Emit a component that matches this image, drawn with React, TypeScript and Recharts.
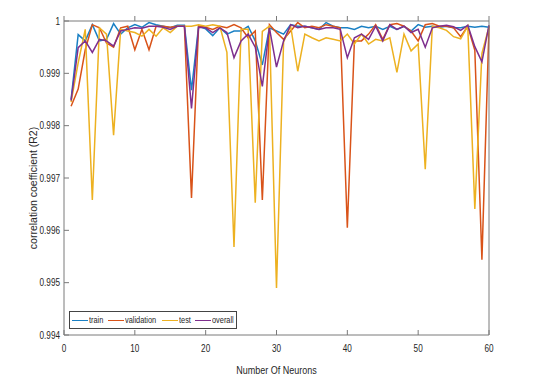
import React from "react";
import {
  LineChart,
  Line,
  XAxis,
  YAxis,
  Legend,
} from "recharts";

const NEURONS = Array.from({ length: 60 }, (_, i) => i + 1);

const TRAIN = [
  0.9985, 0.99974, 0.99962, 0.99993, 0.99962, 0.99965, 0.99995, 0.99975, 0.99987, 0.99993,
  0.99988, 0.99997, 0.99993, 0.9999, 0.99987, 0.99992, 0.99992, 0.99868, 0.9999, 0.99985,
  0.99972, 0.99987, 0.99975, 0.99981, 0.99981, 0.9999, 0.99962, 0.99916, 0.99987, 0.99981,
  0.99975, 0.99993, 0.9999, 0.9999, 0.99987, 0.99984, 0.99997, 0.9999, 0.99987, 0.99987,
  0.99984, 0.9999, 0.99987, 0.9999, 0.99984, 0.9999, 0.99984, 0.9999, 0.99981, 0.99993,
  0.99988, 0.9999, 0.99988, 0.9999, 0.99987, 0.99987, 0.9999, 0.99988, 0.9999, 0.99988,
];

const VALIDATION = [
  0.99837, 0.9987, 0.99945, 0.99993, 0.99987, 0.99958, 0.9995, 0.99987, 0.9999, 0.99945,
  0.99984, 0.99945, 0.9999, 0.9999, 0.99988, 0.9999, 0.9999, 0.99662, 0.9999, 0.99988,
  0.99984, 0.9999, 0.99987, 0.99993, 0.99987, 0.99968, 0.99981, 0.99658, 0.99993, 0.99978,
  0.99965, 0.99981, 0.99997, 0.99987, 0.9999, 0.99987, 0.99993, 0.9999, 0.99987, 0.99605,
  0.99962, 0.99962, 0.99975, 0.99993, 0.99965, 0.99993, 0.99995, 0.9999, 0.99981, 0.99962,
  0.99993, 0.99995, 0.9999, 0.9999, 0.99987, 0.9997, 0.9999, 0.99944, 0.99544, 0.9999,
];

const TEST = [
  0.99845, 0.9992, 0.99984, 0.99658, 0.99987, 0.99975, 0.99782, 0.99984, 0.99981, 0.99978,
  0.99971, 0.99984, 0.99971, 0.99987, 0.99978, 0.9999, 0.9999, 0.9999, 0.99993, 0.9999,
  0.99993, 0.9999, 0.9994, 0.99568, 0.99984, 0.99984, 0.99653, 0.9998, 0.9999, 0.9949,
  0.9996, 0.9999, 0.99904, 0.99975, 0.99968, 0.99962, 0.99968, 0.99965, 0.99962, 0.99975,
  0.99956, 0.99975, 0.99956, 0.99965, 0.99962, 0.99968, 0.99902, 0.99975, 0.99943, 0.99956,
  0.99717, 0.9999, 0.99987, 0.99982, 0.9997, 0.99966, 0.9999, 0.99641, 0.99938, 0.99989,
];

const OVERALL = [
  0.99848, 0.99949, 0.99962, 0.9994, 0.99965, 0.99962, 0.99952, 0.99981, 0.99984, 0.99987,
  0.99986, 0.9999, 0.9999, 0.99988, 0.99984, 0.9999, 0.9999, 0.99833, 0.99988, 0.99987,
  0.99978, 0.99987, 0.99978, 0.9993, 0.99962, 0.99975, 0.9995, 0.99875, 0.99987, 0.99912,
  0.99962, 0.99993, 0.99987, 0.9999, 0.99987, 0.99984, 0.99987, 0.99987, 0.99984, 0.9993,
  0.99968, 0.99975, 0.99965, 0.9999, 0.99962, 0.99993, 0.99984, 0.9999, 0.99978, 0.99984,
  0.9995, 0.99987, 0.9999, 0.99992, 0.99989, 0.99982, 0.99992, 0.99951, 0.99922, 0.99992,
];

const SERIES = ["train", "validation", "test", "overall"];
const X_TICKS = [0, 10, 20, 30, 40, 50, 60];
const Y_TICKS = [0.994, 0.995, 0.996, 0.997, 0.998, 0.999, 1];

const data = NEURONS.map((n, i) => ({
  n,
  train: TRAIN[i],
  validation: VALIDATION[i],
  test: TEST[i],
  overall: OVERALL[i],
}));

const FONT = "'Liberation Sans', Arial, sans-serif";
const SQUEEZE = 0.82; // fake Arial Narrow
const AXIS = "#7a7a7a";
const TEXT = "#262626";

// narrow-looking svg text
const NarrowText = ({ x, y, anchor, size, dy, children }: any) => (
  <text
    transform={`translate(${x},${y}) scale(${SQUEEZE},1)`}
    textAnchor={anchor}
    dy={dy}
    fontFamily={FONT}
    fontSize={size}
    fill={TEXT}
  >
    {children}
  </text>
);

const XTick = ({ x, y, payload }: any) => (
  <NarrowText x={x} y={y} anchor="middle" size={10} dy="0.71em">
    {payload.value}
  </NarrowText>
);

const YTick = ({ x, y, payload }: any) => (
  <NarrowText x={x} y={y} anchor="end" size={10} dy="0.355em">
    {payload.value === 1 ? "1" : payload.value.toFixed(3)}
  </NarrowText>
);

const noLabel = () => <g />;

const XTitle = ({ viewBox }: any) => (
  <NarrowText x={viewBox.x + viewBox.width / 2} y={370} anchor="middle" size={11} dy="0.355em">
    Number Of Neurons
  </NarrowText>
);

const YTitle = () => (
  <text
    x={34}
    y={188}
    transform="rotate(-90 34 188)"
    textAnchor="middle"
    dominantBaseline="middle"
    fontFamily={FONT}
    fontSize={10.5}
    fill={TEXT}
  >
    correlation coefficient (R2)
  </text>
);

let ctx: CanvasRenderingContext2D | null = null;
const narrowWidth = (s: string, size: number) => {
  if (!ctx) ctx = document.createElement("canvas").getContext("2d");
  if (!ctx) return s.length * size * 0.45;
  ctx.font = `${size}px 'Liberation Sans'`;
  return ctx.measureText(s).width * SQUEEZE;
};

const LegendBox = ({ payload }: any) => {
  const items = [...(payload || [])].sort(
    (a: any, b: any) => SERIES.indexOf(a.value) - SERIES.indexOf(b.value)
  );
  return (
    <div
      style={{
        display: "flex",
        alignItems: "center",
        width: "fit-content",
        height: 16,
        padding: "0 2px",
        border: "1px solid #444",
        background: "#fff",
        fontFamily: FONT,
        fontSize: 9,
        color: TEXT,
        lineHeight: "16px",
      }}
    >
      {items.map((entry: any, i: number) => (
        <span
          key={`item-${i}`}
          style={{ display: "flex", alignItems: "center", marginRight: i === items.length - 1 ? 0 : 5 }}
        >
          <span
            style={{
              display: "inline-block",
              width: 16,
              borderTop: `1.5px solid ${entry.color}`,
              marginRight: 1,
            }}
          />
          <span style={{ display: "inline-block", width: narrowWidth(entry.value, 9), whiteSpace: "nowrap" }}>
            <span style={{ display: "inline-block", transform: `scaleX(${SQUEEZE})`, transformOrigin: "left center" }}>
              {entry.value}
            </span>
          </span>
        </span>
      ))}
    </div>
  );
};

export default function App() {
  return (
    <div style={{ position: "absolute", left: 0, top: 0, background: "#fff" }}>
      <LineChart
        width={559}
        height={382}
        data={data}
        margin={{ top: 20, right: 69, bottom: 0, left: 0 }}
      >
        <XAxis
          dataKey="n"
          type="number"
          domain={[0, 60]}
          ticks={X_TICKS}
          height={47}
          stroke={AXIS}
          tickSize={-5}
          tickMargin={15}
          tick={XTick}
          label={{ content: XTitle }}
        />
        <XAxis
          xAxisId="top"
          dataKey="n"
          type="number"
          orientation="top"
          domain={[0, 60]}
          ticks={X_TICKS}
          height={1}
          stroke={AXIS}
          tickSize={5}
          tick={noLabel}
        />
        <YAxis
          type="number"
          domain={[0.994, 1]}
          ticks={Y_TICKS}
          allowDataOverflow
          width={64}
          stroke={AXIS}
          tickSize={-5}
          tickMargin={9}
          tick={YTick}
          label={{ content: YTitle }}
        />
        <YAxis
          yAxisId="right"
          orientation="right"
          type="number"
          domain={[0.994, 1]}
          ticks={Y_TICKS}
          width={1}
          stroke={AXIS}
          tickSize={5}
          tick={noLabel}
        />
        <Legend
          layout="horizontal"
          verticalAlign="middle"
          align="center"
          wrapperStyle={{ left: 69, top: 311, width: "auto", height: 18, lineHeight: "16px" }}
          content={LegendBox}
        />
        <Line type="linear" dataKey="train" name="train" stroke="#1a80c4" strokeWidth={1.5} dot={false} isAnimationActive={false} />
        <Line type="linear" dataKey="validation" name="validation" stroke="#d95319" strokeWidth={1.5} dot={false} isAnimationActive={false} />
        <Line type="linear" dataKey="test" name="test" stroke="#edb120" strokeWidth={1.5} dot={false} isAnimationActive={false} />
        <Line type="linear" dataKey="overall" name="overall" stroke="#7e2f8e" strokeWidth={1.5} dot={false} isAnimationActive={false} />
      </LineChart>
    </div>
  );
}
